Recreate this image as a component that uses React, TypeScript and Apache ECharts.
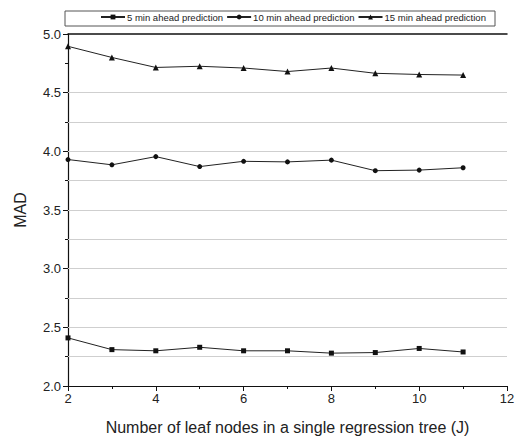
import React, { useEffect, useRef } from "react";
import * as echarts from "echarts";

const leafNodes = [2, 3, 4, 5, 6, 7, 8, 9, 10, 11];
const mad5 = [2.41, 2.31, 2.30, 2.33, 2.30, 2.30, 2.28, 2.285, 2.32, 2.29];
const mad10 = [3.93, 3.885, 3.955, 3.87, 3.915, 3.91, 3.925, 3.835, 3.84, 3.86];
const mad15 = [4.895, 4.80, 4.715, 4.725, 4.71, 4.68, 4.71, 4.665, 4.655, 4.65];
const seriesNames = ["5 min ahead prediction", "10 min ahead prediction", "15 min ahead prediction"];
const gridValues = [2.25, 2.5, 2.75, 3.0, 3.25, 3.5, 3.75, 4.0, 4.25, 4.5];

export default function App() {
  const ref = useRef<HTMLDivElement>(null);
  useEffect(() => {
    if (!ref.current) return;
    const chart = echarts.init(ref.current, null, { renderer: "svg" });
    const font = "Liberation Sans, Arial, sans-serif";
    const mk = (vals: number[]) => leafNodes.map((x, i) => [x, vals[i]]);
    const lineStyle = { color: "#222", width: 1 };
    const itemStyle = { color: "#111" };
    chart.setOption({
      animation: false,
      backgroundColor: "#fff",
      textStyle: { fontFamily: font },
      graphic: [
        {
          type: "rect",
          shape: { x: 65, y: 11, width: 430, height: 15 },
          style: { fill: "none", stroke: "#555", lineWidth: 1 },
        },
      ],
      legend: {
        top: 12,
        left: 100,
        itemWidth: 24,
        itemHeight: 6,
        itemGap: 3,
        padding: 0,
        textStyle: { fontSize: 9.5, color: "#222", fontFamily: font, padding: [0, 0, 0, -3] },
        data: seriesNames,
      },
      grid: { left: 68, right: 10, top: 34, bottom: 53, containLabel: false, outerBoundsMode: "none" },
      xAxis: [
        {
          type: "value",
          min: 2,
          max: 12,
          interval: 2,
          name: "Number of leaf nodes in a single regression tree (J)",
          nameLocation: "middle",
          nameGap: 33,
          nameTextStyle: { fontSize: 16, color: "#222", fontFamily: font },
          axisLine: { lineStyle: { color: "#111", width: 1.2 } },
          axisTick: { show: true, length: 5, lineStyle: { color: "#111" } },
          minorTick: { show: true, splitNumber: 2, length: 3, lineStyle: { color: "#111" } },
          axisLabel: { fontSize: 13, color: "#222", margin: 6 },
          splitLine: { show: false },
        },
        {
          type: "value",
          position: "top",
          min: 2,
          max: 12,
          axisLine: { show: true, lineStyle: { color: "#111", width: 1.5 } },
          axisTick: { show: false },
          axisLabel: { show: false },
          splitLine: { show: false },
        },
      ],
      yAxis: {
        type: "value",
        min: 2.0,
        max: 5.0,
        interval: 0.5,
        name: "MAD",
        nameLocation: "middle",
        nameGap: 40,
        nameRotate: 90,
        nameTextStyle: { fontSize: 16, color: "#222", fontFamily: font },
        axisLine: { show: true, lineStyle: { color: "#111", width: 1.2 } },
        axisTick: { show: true, length: 5, lineStyle: { color: "#111" } },
        minorTick: { show: true, splitNumber: 2, length: 3, lineStyle: { color: "#111" } },
        axisLabel: {
          fontSize: 13,
          color: "#222",
          margin: 7,
          formatter: (v: number) => v.toFixed(1),
        },
        splitLine: { show: false },
      },
      series: [
        {
          name: seriesNames[0],
          type: "line",
          data: mk(mad5),
          symbol: "rect",
          symbolSize: 5,
          lineStyle,
          itemStyle,
          markLine: {
            silent: true,
            symbol: "none",
            label: { show: false },
            lineStyle: { color: "#cfcfcf", type: "solid", width: 1 },
            data: gridValues.map((v) => ({ yAxis: v })),
            z: 1,
          },
        },
        {
          name: seriesNames[1],
          type: "line",
          data: mk(mad10),
          symbol: "circle",
          symbolSize: 5,
          lineStyle,
          itemStyle,
        },
        {
          name: seriesNames[2],
          type: "line",
          data: mk(mad15),
          symbol: "triangle",
          symbolSize: 6,
          lineStyle,
          itemStyle,
        },
      ],
    });
    return () => chart.dispose();
  }, []);
  return <div ref={ref} style={{ width: 517, height: 439, position: "absolute", left: 0, top: 0 }} />;
}
